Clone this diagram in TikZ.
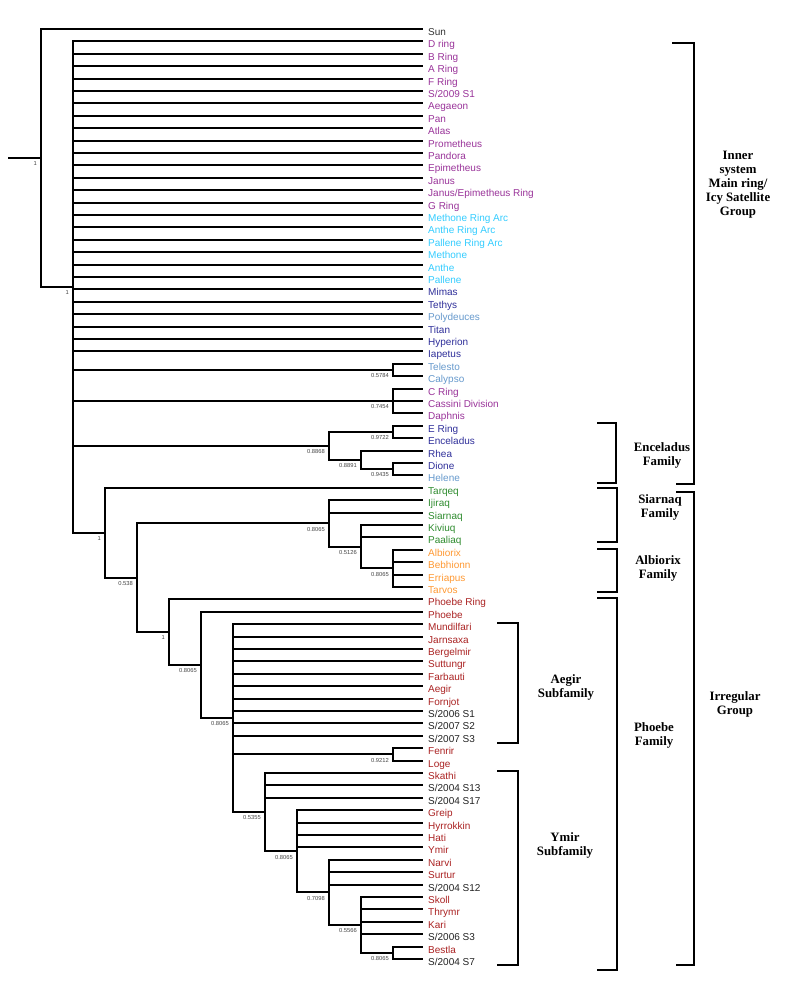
\documentclass[tikz,border=0pt]{standalone}
\usepackage{fontspec}
\setmainfont{Liberation Serif}
\setsansfont{Liberation Sans}
\usetikzlibrary{positioning,calc}
\definecolor{SunGrey}{HTML}{333333}
\definecolor{RingPurple}{HTML}{993399}
\definecolor{ArcCyan}{HTML}{33CCFF}
\definecolor{IcyNavy}{HTML}{2E2E99}
\definecolor{Trojan}{HTML}{6699CC}
\definecolor{Inuit}{HTML}{2E8B2E}
\definecolor{Gallic}{HTML}{FF9933}
\definecolor{Norse}{HTML}{AA2222}
\definecolor{Unnamed}{HTML}{222222}
\definecolor{BootGrey}{HTML}{444444}

\tikzset{
  branch/.style={line width=2pt,black,line join=miter},
  leaf/.style={anchor=west,inner xsep=5pt,inner ysep=0pt,text height=13pt,text depth=0pt,
    font=\sffamily\fontsize{10}{12}\selectfont},
  boot/.style={anchor=north east,xshift=-4pt,yshift=-3.5pt,inner sep=0pt,
    font=\sffamily\fontsize{5.8}{6}\selectfont,text=BootGrey},
  brace/.style={line width=2pt,black,line join=miter},
  group/.style={align=center,font=\bfseries\fontsize{12.8}{14}\selectfont}
}

\begin{document}
\begin{tikzpicture}[x=1pt,y=-1pt]
    \useasboundingbox (0,0) rectangle (787,990);
    % leaves, one row every 12.4
    \foreach \i/\col/\name in {1/SunGrey/Sun,2/RingPurple/D ring,3/RingPurple/B Ring,
      4/RingPurple/A Ring,5/RingPurple/F Ring,6/RingPurple/{S/2009 S1},7/RingPurple/Aegaeon,
      8/RingPurple/Pan,9/RingPurple/Atlas,10/RingPurple/Prometheus,11/RingPurple/Pandora,
      12/RingPurple/Epimetheus,13/RingPurple/Janus,14/RingPurple/{Janus/Epimetheus Ring},
      15/RingPurple/G Ring,16/ArcCyan/Methone Ring Arc,17/ArcCyan/Anthe Ring Arc,
      18/ArcCyan/Pallene Ring Arc,19/ArcCyan/Methone,20/ArcCyan/Anthe,21/ArcCyan/Pallene,
      22/IcyNavy/Mimas,23/IcyNavy/Tethys,24/Trojan/Polydeuces,25/IcyNavy/Titan,
      26/IcyNavy/Hyperion,27/IcyNavy/Iapetus,28/Trojan/Telesto,29/Trojan/Calypso,
      30/RingPurple/C Ring,31/RingPurple/Cassini Division,32/RingPurple/Daphnis,
      33/IcyNavy/E Ring,34/IcyNavy/Enceladus,35/IcyNavy/Rhea,36/IcyNavy/Dione,37/Trojan/Helene,
      38/Inuit/Tarqeq,39/Inuit/Ijiraq,40/Inuit/Siarnaq,41/Inuit/Kiviuq,42/Inuit/Paaliaq,
      43/Gallic/Albiorix,44/Gallic/Bebhionn,45/Gallic/Erriapus,46/Gallic/Tarvos,
      47/Norse/Phoebe Ring,48/Norse/Phoebe,49/Norse/Mundilfari,50/Norse/Jarnsaxa,
      51/Norse/Bergelmir,52/Norse/Suttungr,53/Norse/Farbauti,54/Norse/Aegir,55/Norse/Fornjot,
      56/Unnamed/{S/2006 S1},57/Unnamed/{S/2007 S2},58/Unnamed/{S/2007 S3},59/Norse/Fenrir,
      60/Norse/Loge,61/Norse/Skathi,62/Unnamed/{S/2004 S13},63/Unnamed/{S/2004 S17},
      64/Norse/Greip,65/Norse/Hyrrokkin,66/Norse/Hati,67/Norse/Ymir,68/Norse/Narvi,
      69/Norse/Surtur,70/Unnamed/{S/2004 S12},71/Norse/Skoll,72/Norse/Thrymr,73/Norse/Kari,
      74/Unnamed/{S/2006 S3},75/Norse/Bestla,76/Unnamed/{S/2004 S7}}{
      \node[leaf,text=\col] (l\i) at (423,{29+12.4*(\i-1)}) {\name};
    }
    % inner nodes of the tree
    \coordinate (stub) at (8,158);
    \coordinate (nRoot) at (41,158);
    \coordinate (nA) at (73,287.1);
    \coordinate (nTC) at (393,370);
    \coordinate (nCR) at (393,401);
    \coordinate (nEnc) at (329,446);
    \coordinate (nEE) at (393,432);
    \coordinate (nRh) at (361,459.9);
    \coordinate (nDH) at (393,469.2);
    \coordinate (nIrr) at (105,532.8);
    \coordinate (nB) at (137,577.8);
    \coordinate (nSia) at (329,523.45);
    \coordinate (nKiv) at (361,546.7);
    \coordinate (nAlb) at (393,568.4);
    \coordinate (nD) at (169,632.2);
    \coordinate (nG) at (201,665);
    \coordinate (nH) at (233,718.2);
    \coordinate (nFL) at (393,754.4);
    \coordinate (nI) at (265,812.15);
    \coordinate (nJ) at (297,851.3);
    \coordinate (nK) at (329,892.35);
    \coordinate (nL) at (361,924.9);
    \coordinate (nM) at (393,952.8);

    \draw[branch] (stub) -- (nRoot);
    \foreach \c in {2,...,27} \draw[branch] (nA) |- (l\c);
    \foreach \c in {49,...,58} \draw[branch] (nH) |- (l\c);
    \foreach \p/\c in {nRoot/l1,nRoot/nA,nA/nTC,nA/nCR,nA/nEnc,nA/nIrr,
      nTC/l28,nTC/l29,nCR/l30,nCR/l31,nCR/l32,nEnc/nEE,nEnc/nRh,nEE/l33,nEE/l34,
      nRh/l35,nRh/nDH,nDH/l36,nDH/l37,nIrr/l38,nIrr/nB,nB/nSia,nB/nD,
      nSia/l39,nSia/l40,nSia/nKiv,nKiv/l41,nKiv/l42,nKiv/nAlb,
      nAlb/l43,nAlb/l44,nAlb/l45,nAlb/l46,nD/l47,nD/nG,nG/l48,nG/nH,
      nH/nFL,nH/nI,nFL/l59,nFL/l60,nI/l61,nI/l62,nI/l63,nI/nJ,
      nJ/l64,nJ/l65,nJ/l66,nJ/l67,nJ/nK,nK/l68,nK/l69,nK/l70,nK/nL,
      nL/l71,nL/l72,nL/l73,nL/l74,nL/nM,nM/l75,nM/l76}
      \draw[branch] (\p) |- (\c);

    % support values
    \foreach \n/\v in {nRoot/1,nA/1,nTC/0.5784,nCR/0.7454,nEnc/0.8868,nEE/0.9722,
      nRh/0.8891,nDH/0.9435,nIrr/1,nB/0.538,nSia/0.8065,nKiv/0.5126,nAlb/0.8065,
      nD/1,nG/0.8065,nH/0.8065,nFL/0.9212,nI/0.5355,nJ/0.8065,nK/0.7098,
      nL/0.5566,nM/0.8065}
      \node[boot] (b\n) at (\n) {\v};

    % group brackets
    \foreach \xt/\xb/\xr/\yt/\yb in {672/676/694/42.7/484,597/597/616/423/483,
      597/597/617/488/542,597/597/617/549/592,597/597/617/598/970,
      497/497/518/623/743,497/497/518/771/965,676/676/694/492/965}
      \draw[brace] (\xt,\yt) -| (\xr,\yb) -- (\xb,\yb);
    \node[group] (gInner) at (738,185) {Inner\\system\\Main ring/\\Icy Satellite\\Group};
    \node[group] (gEnc) at (662,455) {Enceladus\\Family};
    \node[group] (gSia) at (660,507.5) {Siarnaq\\Family};
    \node[group] (gAlb) at (658,568) {Albiorix\\Family};
    \node[group] (gPho) at (654,735) {Phoebe\\Family};
    \node[group] (gAeg) at (566,687) {Aegir\\Subfamily};
    \node[group] (gYmir) at (565,845.5) {Ymir\\Subfamily};
    \node[group] (gIrr) at (735,704.5) {Irregular\\Group};
  \end{tikzpicture}
\end{document}
